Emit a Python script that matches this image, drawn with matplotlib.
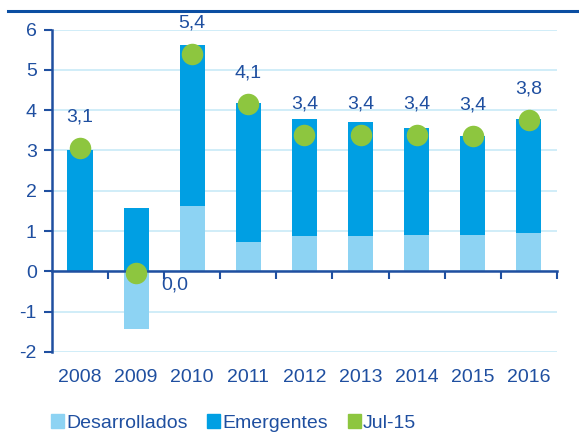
import matplotlib.pyplot as plt
from matplotlib.patches import Patch
from matplotlib.lines import Line2D

plt.rcParams['font.family'] = ['Liberation Sans', 'DejaVu Sans']
plt.rcParams['axes.unicode_minus'] = False

years = ['2008', '2009', '2010', '2011', '2012', '2013', '2014', '2015', '2016']
desarrollados = [0.0, -1.43, 1.62, 0.74, 0.88, 0.87, 0.90, 0.90, 0.96]
emergentes = [3.02, 1.58, 4.00, 3.44, 2.90, 2.84, 2.66, 2.47, 2.81]
jul15 = [3.06, -0.05, 5.40, 4.14, 3.39, 3.39, 3.38, 3.36, 3.76]
jul15_labels = ['3,1', '0,0', '5,4', '4,1', '3,4', '3,4', '3,4', '3,4', '3,8']

c_des = '#8DD3F3'
c_eme = '#009FE3'
c_jul = '#8DC63F'
c_axis = '#1F4FA0'
c_grid = '#C8EAF7'
fs = 14

fig = plt.figure(figsize=(5.79, 4.34), dpi=100)
ax = fig.add_axes([0.0898, 0.189, 0.872, 0.743])

x = list(range(len(years)))
base = [max(d, 0) for d in desarrollados]
ax.bar(x, desarrollados, width=0.45, color=c_des, zorder=2)
ax.bar(x, emergentes, width=0.45, bottom=base, color=c_eme, zorder=2)
ax.scatter(x, jul15, s=240, color=c_jul, zorder=4, linewidths=0)

for i, (v, lab) in enumerate(zip(jul15, jul15_labels)):
    if v < 0.5:
        ax.annotate(lab, (i, v), xytext=(39, -12), textcoords='offset pixels',
                    ha='center', va='center', fontsize=fs, color=c_axis)
    else:
        ax.annotate(lab, (i, v), xytext=(0, 31), textcoords='offset pixels',
                    ha='center', va='center', fontsize=fs, color=c_axis)

ax.set_xlim(-0.5, len(years) - 0.5)
ax.set_ylim(-2, 6)
ax.set_yticks(range(-2, 7))
ax.yaxis.grid(True, color=c_grid, linewidth=1.2, zorder=0)
ax.set_axisbelow(True)

for s in ['top', 'right']:
    ax.spines[s].set_visible(False)
ax.spines['bottom'].set_position(('data', 0))
ax.spines['bottom'].set_color(c_axis)
ax.spines['bottom'].set_linewidth(1.8)
ax.spines['bottom'].set_zorder(3)
ax.spines['left'].set_color(c_axis)
ax.spines['left'].set_linewidth(1.8)

ax.set_xticks([i + 0.5 for i in x])
ax.set_xticklabels([])
ax.tick_params(axis='x', direction='out', length=6, width=1.5, color=c_axis)
ax.tick_params(axis='y', direction='out', length=6, width=1.5, color=c_axis,
               labelcolor=c_axis, labelsize=fs, pad=5)

for i, yr in enumerate(years):
    ax.text(i, -0.08, yr, transform=ax.get_xaxis_transform(), ha='center', va='center',
            fontsize=fs, color=c_axis)

# top rule
fig.add_artist(Line2D([8 / 579, 1], [1 - 11 / 434, 1 - 11 / 434], color='#0B4EA2', linewidth=2.2))

handles = [Patch(color=c_des, label='Desarrollados'),
           Patch(color=c_eme, label='Emergentes'),
           Patch(color=c_jul, label='Jul-15')]
fig.legend(handles=handles, loc='center left', bbox_to_anchor=(51 / 579, 1 - 423 / 434), ncol=3,
           frameon=False, fontsize=fs, handlelength=0.67, handleheight=0.67, borderpad=0,
           borderaxespad=0, handletextpad=0.12, columnspacing=1.0, labelcolor=c_axis)

fig.savefig('out.png', dpi=100)
